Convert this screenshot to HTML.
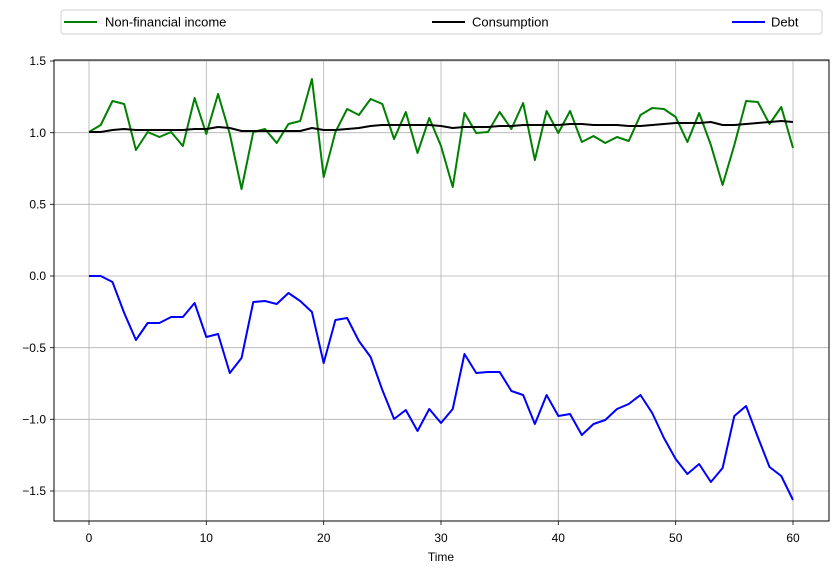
<!DOCTYPE html>
<html><head><meta charset="utf-8"><style>
body{margin:0;background:#fff}
svg{display:block;font-family:"Liberation Sans","DejaVu Sans",sans-serif}
</style></head><body>
<svg width="838" height="574" viewBox="0 0 838 574">
<rect width="838" height="574" fill="#fff"/>
<g stroke="#b0b0b0" stroke-width="0.8">
<line x1="89" y1="60" x2="89" y2="521"/><line x1="206.3" y1="60" x2="206.3" y2="521"/><line x1="323.7" y1="60" x2="323.7" y2="521"/><line x1="441" y1="60" x2="441" y2="521"/><line x1="558.3" y1="60" x2="558.3" y2="521"/><line x1="675.7" y1="60" x2="675.7" y2="521"/><line x1="793" y1="60" x2="793" y2="521"/>
<line x1="54" y1="61" x2="829" y2="61"/><line x1="54" y1="132.7" x2="829" y2="132.7"/><line x1="54" y1="204.3" x2="829" y2="204.3"/><line x1="54" y1="276" x2="829" y2="276"/><line x1="54" y1="347.7" x2="829" y2="347.7"/><line x1="54" y1="419.3" x2="829" y2="419.3"/><line x1="54" y1="491" x2="829" y2="491"/>
</g>
<g transform="translate(89,0) scale(11.7333,1)" fill="none" stroke-width="2" stroke-linejoin="round">
<polyline vector-effect="non-scaling-stroke" stroke="#008000" points="0,132 1,125 2,101 3,104 4,150 5,132 6,137 7,132 8,146 9,98 10,134 11,94 12,134 13,189 14,132 15,129 16,143 17,124 18,121 19,79 20,177 21,132 22,109 23,115 24,99 25,104 26,139 27,112 28,153 29,118 30,146 31,187 32,113 33,133 34,132 35,112 36,129 37,103 38,160 39,111 40,133 41,111 42,142 43,136 44,143 45,137 46,141 47,115 48,108 49,109 50,117 51,142 52,113 53,145 54,185 55,145 56,101 57,102 58,124 59,107 60,148"/>
<polyline vector-effect="non-scaling-stroke" stroke="#000" points="0,132 1,132 2,130 3,129 4,130 5,130 6,130 7,130 8,130 9,129 10,129 11,127 12,128 13,131 14,131 15,131 16,131 17,131 18,131 19,128 20,130 21,130 22,129 23,128 24,126 25,125 26,125 27,125 28,125 29,125 30,126 31,128 32,127 33,127 34,127 35,126 36,126 37,125 38,125 39,125 40,125 41,124 42,124 43,125 44,125 45,125 46,126 47,126 48,125 49,124 50,123 51,123 52,123 53,122 54,125 55,125 56,124 57,123 58,122 59,121 60,122"/>
<polyline vector-effect="non-scaling-stroke" stroke="#0000ff" points="0,276 1,276 2,282 3,313 4,340 5,323 6,323 7,317 8,317 9,303 10,337 11,334 12,373 13,358 14,302 15,301 16,304 17,293 18,301 19,312 20,363 21,320 22,318 23,341 24,357 25,390 26,419 27,410 28,431 29,409 30,423 31,409 32,354 33,373 34,372 35,372 36,391 37,395 38,424 39,395 40,416 41,414 42,435 43,424 44,420 45,409 46,404 47,395 48,413 49,438 50,459 51,474 52,464 53,482 54,468 55,416 56,406 57,437 58,467 59,476 60,500"/>
</g>
<rect x="54" y="60" width="775" height="461" fill="none" stroke="#000" stroke-width="1"/>
<g stroke="#000" stroke-width="0.8">
<line x1="89" y1="521" x2="89" y2="525"/><line x1="206.3" y1="521" x2="206.3" y2="525"/><line x1="323.7" y1="521" x2="323.7" y2="525"/><line x1="441" y1="521" x2="441" y2="525"/><line x1="558.3" y1="521" x2="558.3" y2="525"/><line x1="675.7" y1="521" x2="675.7" y2="525"/><line x1="793" y1="521" x2="793" y2="525"/>
<line x1="50" y1="61" x2="54" y2="61"/><line x1="50" y1="132.7" x2="54" y2="132.7"/><line x1="50" y1="204.3" x2="54" y2="204.3"/><line x1="50" y1="276" x2="54" y2="276"/><line x1="50" y1="347.7" x2="54" y2="347.7"/><line x1="50" y1="419.3" x2="54" y2="419.3"/><line x1="50" y1="491" x2="54" y2="491"/>
</g>
<g font-size="12" fill="#000" text-anchor="middle">
<text x="89" y="542">0</text><text x="206.3" y="542">10</text><text x="323.7" y="542">20</text><text x="441" y="542">30</text><text x="558.3" y="542">40</text><text x="675.7" y="542">50</text><text x="793" y="542">60</text>
<text x="441" y="561">Time</text>
</g>
<g font-size="12" fill="#000" text-anchor="end">
<text x="46" y="65">1.5</text><text x="46" y="137">1.0</text><text x="46" y="208.5">0.5</text><text x="46" y="280">0.0</text><text x="46" y="352">−0.5</text><text x="46" y="423.5">−1.0</text><text x="46" y="495">−1.5</text>
</g>
<rect x="61" y="10" width="761" height="24" rx="3" fill="#fff" stroke="#d0d0d0"/>
<g stroke-width="2"><line x1="64" y1="22" x2="97" y2="22" stroke="#008000"/><line x1="432" y1="22" x2="465" y2="22" stroke="#000"/><line x1="732" y1="22" x2="765" y2="22" stroke="#0000ff"/></g>
<g font-size="13" fill="#000"><text x="105" y="26.5">Non-financial income</text><text x="472" y="26.5">Consumption</text><text x="771" y="26.5">Debt</text></g>
</svg>
</body></html>
